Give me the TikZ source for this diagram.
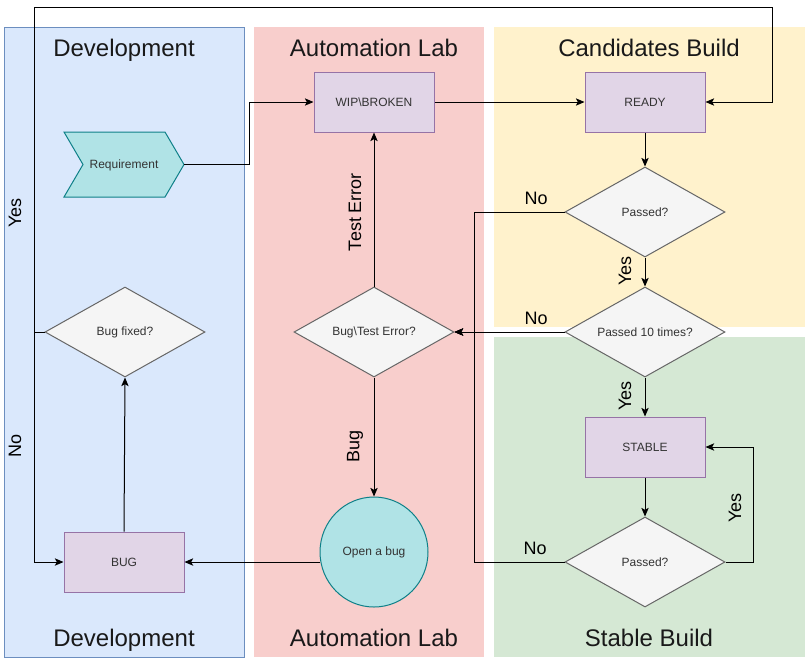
\documentclass[tikz,border=0pt]{standalone}
\usepackage{fontspec}
\setmainfont{Liberation Sans}
\usetikzlibrary{arrows.meta,shapes.geometric}
\definecolor{devfill}{HTML}{DAE8FC}
\definecolor{devline}{HTML}{6C8EBF}
\definecolor{labfill}{HTML}{F8CECC}
\definecolor{candfill}{HTML}{FFF2CC}
\definecolor{stabfill}{HTML}{D5E8D4}
\definecolor{purfill}{HTML}{E1D5E7}
\definecolor{purline}{HTML}{9673A6}
\definecolor{tealfill}{HTML}{B0E3E6}
\definecolor{tealline}{HTML}{0E8088}
\definecolor{grayfill}{HTML}{F5F5F5}
\definecolor{grayline}{HTML}{666666}
\definecolor{txt}{HTML}{333333}
\tikzset{
  lanetitle/.style={font=\fontsize{18}{20}\selectfont, text=black!90, anchor=base, inner sep=0pt},
  statebox/.style={rectangle, draw=purline, fill=purfill, line width=0.75pt, minimum width=90pt, minimum height=45pt, inner sep=0pt, font=\fontsize{9}{11}\selectfont, text=txt},
  decision/.style={diamond, shape aspect=1.78, draw=grayline, fill=grayfill, line width=0.75pt, minimum width=120pt, minimum height=67.5pt, inner sep=0pt, font=\fontsize{9}{11}\selectfont, text=txt},
  bugcircle/.style={ellipse, draw=tealline, fill=tealfill, line width=0.75pt, minimum width=81pt, minimum height=82.5pt, inner sep=0pt, font=\fontsize{9}{11}\selectfont, text=txt},
  txtonly/.style={rectangle, minimum width=90pt, minimum height=48.75pt, inner sep=0pt, font=\fontsize{9}{11}\selectfont, text=txt},
  lbl/.style={font=\fontsize{13.5}{15}\selectfont, text=black, inner sep=0pt},
  arr/.style={draw=black, line width=0.75pt, -{Stealth[length=6.5pt,width=5.5pt,inset=1.5pt]}},
}
\begin{document}
\begin{tikzpicture}[x=0.75pt,y=-0.75pt]
\useasboundingbox (0,0) rectangle (805,658);
% lanes
\filldraw[fill=devfill, draw=devline, line width=0.75pt] (4.5,27.5) rectangle (244.5,657);
\fill[labfill] (254,27) rectangle (484,657);
\fill[candfill] (494,27) rectangle (805,327);
\fill[stabfill] (494,337) rectangle (805,657);
% titles
\node[lanetitle] (t1) at (124,56.5) {Development};
\node[lanetitle] (t2) at (374,56.5) {Automation Lab};
\node[lanetitle] (t3) at (649,56.5) {Candidates Build};
\node[lanetitle] (t4) at (124,646) {Development};
\node[lanetitle] (t5) at (374,646) {Automation Lab};
\node[lanetitle] (t6) at (649,646) {Stable Build};
% requirement chevron
\filldraw[fill=tealfill, draw=tealline, line width=0.75pt] (64,132) -- (165,132) -- (184,164.5) -- (165,197) -- (64,197) -- (83,164.5) -- cycle;
\node[txtonly, text depth=0pt] (req) at (124,164.5) {Requirement};
% nodes
\node[statebox] (wip) at (374,102) {WIP\textbackslash BROKEN};
\node[statebox] (ready) at (645,102) {READY};
\node[decision] (p1) at (645,212) {Passed?};
\node[decision] (p10) at (645,332) {Passed 10 times?};
\node[statebox] (stable) at (645,447) {STABLE};
\node[decision] (p3) at (645,562) {Passed?};
\node[decision] (bte) at (374,332) {Bug\textbackslash Test Error?};
\node[decision] (bfix) at (125,332) {Bug fixed?};
\node[bugcircle] (open) at (374,552) {Open a bug};
\node[statebox] (bug) at (124,562) {BUG};
% connectors
\draw[arr] (req.east) -- (249,164.5) |- (wip.west);
\draw[arr] (wip.east) -- (ready.west);
\draw[arr] (ready.south) -- (p1.north);
\draw[arr] (p1.south) -- (p10.north);
\draw[arr] (p10.south) -- (stable.north);
\draw[arr] (stable.south) -- (p3.north);
\draw[arr] (p3.east) -- (753,562) |- (stable.east);
\draw[arr] (p1.west) -- (474,212) |- (bte.east);
\draw[arr] (p3.west) -- (474,562) |- (bte.east);
\draw[arr] (p10.west) -- (bte.east);
\draw[arr] (bte.north) -- (wip.south);
\draw[arr] (bte.south) -- (open.north);
\draw[arr] (open.west |- bug.east) -- (bug.east);
\draw[arr] (bug.north) -- (bfix.south);
\draw[arr] (bfix.west) -- (34,332) -- (34,7) -- (772,7) |- (ready.east);
\draw[arr] (bfix.west) -- (34,332) |- (bug.west);
% labels
\node[lbl] (l1) at (536,198) {No};
\node[lbl] (l2) at (536,318) {No};
\node[lbl] (l3) at (535,548) {No};
\node[lbl, rotate=90] (l4) at (625,271) {Yes};
\node[lbl, rotate=90] (l5) at (625,396) {Yes};
\node[lbl, rotate=90] (l6) at (735,508) {Yes};
\node[lbl, rotate=90] (l7) at (15,213) {Yes};
\node[lbl, rotate=90] (l8) at (15,446) {No};
\node[lbl, rotate=90] (l9) at (355,212) {Test Error};
\node[lbl, rotate=90] (l10) at (355,446) {Bug};
\end{tikzpicture}
\end{document}
